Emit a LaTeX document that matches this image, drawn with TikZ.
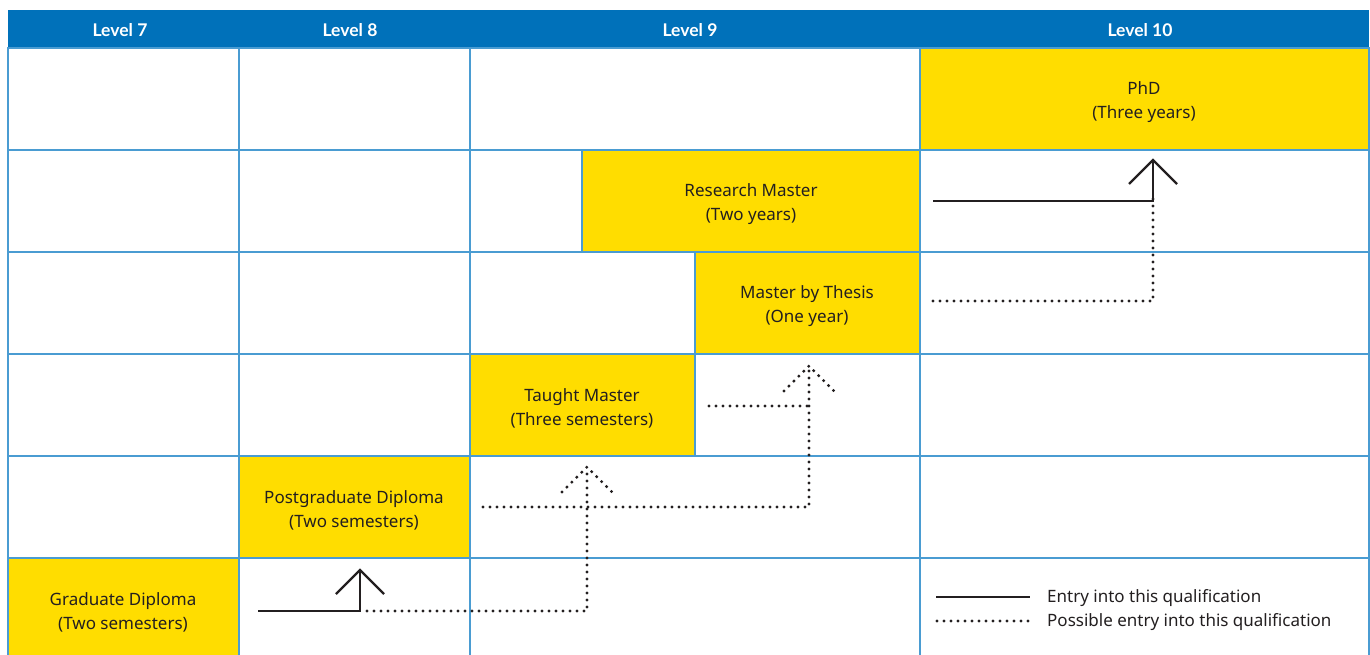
\documentclass[tikz,border=0pt]{standalone}
\usepackage{fontspec}
\setmainfont{Noto Sans}
\newfontfamily\hdrfont{Lato}
\definecolor{hdrblue}{HTML}{0071BA}
\definecolor{gridblue}{HTML}{4A9CD2}
\definecolor{qyellow}{HTML}{FFDD00}
\definecolor{ink}{HTML}{231F20}
\begin{document}
\begin{tikzpicture}[x=1pt,y=-1pt,
  cell/.style={draw=gridblue,line width=1.2pt,inner sep=0pt,outer sep=0pt,anchor=north west},
  qual/.style={cell,fill=qyellow},
  qtext/.style={font=\fontsize{17}{24}\selectfont,text=ink,align=center,inner sep=0pt},
  hdr/.style={font=\hdrfont\bfseries\fontsize{17.5}{18}\selectfont,text=white},
  solidln/.style={draw=ink,line width=2.2pt},
  dotln/.style={draw=ink,line width=3.4pt,line cap=round,dash pattern=on 0pt off 7pt},
  legtext/.style={font=\fontsize{17}{18}\selectfont,text=ink,anchor=west,inner sep=0pt}]
\useasboundingbox (0,0) rectangle (1370,654);
\fill[white] (0,0) rectangle (1370,654);
% header
\fill[hdrblue] (8,9.5) rectangle (1369,48);
\node[hdr] (h7) at (120,30) {Level 7};
\node[hdr] (h8) at (350,30) {Level 8};
\node[hdr] (h9) at (690,30) {Level 9};
\node[hdr] (h10) at (1140,30) {Level 10};
% row 1
\node[cell,minimum width=231,minimum height=102] (r1a) at (8,48) {};
\node[cell,minimum width=231,minimum height=102] (r1b) at (239,48) {};
\node[cell,minimum width=450,minimum height=102] (r1c) at (470,48) {};
\node[qual,minimum width=449,minimum height=102] (phd) at (920,48) {};
% row 2
\node[cell,minimum width=231,minimum height=102] (r2a) at (8,150) {};
\node[cell,minimum width=231,minimum height=102] (r2b) at (239,150) {};
\node[cell,minimum width=112,minimum height=102] (r2c) at (470,150) {};
\node[qual,minimum width=338,minimum height=102] (rm) at (582,150) {};
\node[cell,minimum width=449,minimum height=102] (r2e) at (920,150) {};
% row 3
\node[cell,minimum width=231,minimum height=102] (r3a) at (8,252) {};
\node[cell,minimum width=231,minimum height=102] (r3b) at (239,252) {};
\node[cell,minimum width=225,minimum height=102] (r3c) at (470,252) {};
\node[qual,minimum width=225,minimum height=102] (mbt) at (695,252) {};
\node[cell,minimum width=449,minimum height=102] (r3e) at (920,252) {};
% row 4
\node[cell,minimum width=231,minimum height=102] (r4a) at (8,354) {};
\node[cell,minimum width=231,minimum height=102] (r4b) at (239,354) {};
\node[qual,minimum width=225,minimum height=102] (tm) at (470,354) {};
\node[cell,minimum width=225,minimum height=102] (r4d) at (695,354) {};
\node[cell,minimum width=449,minimum height=102] (r4e) at (920,354) {};
% row 5
\node[cell,minimum width=231,minimum height=102] (r5a) at (8,456) {};
\node[qual,minimum width=231,minimum height=102] (pd) at (239,456) {};
\node[cell,minimum width=450,minimum height=102] (r5c) at (470,456) {};
\node[cell,minimum width=449,minimum height=102] (r5d) at (920,456) {};
% row 6
\node[qual,minimum width=231,minimum height=102] (gd) at (8,558) {};
\node[cell,minimum width=231,minimum height=102] (r6b) at (239,558) {};
\node[cell,minimum width=450,minimum height=102] (r6c) at (470,558) {};
\node[cell,minimum width=449,minimum height=102] (leg) at (920,558) {};
% qualification texts
\node[qtext] (phdT) at (1144,102) {PhD\\(Three years)};
\node[qtext] (rmT) at (751,204) {Research Master\\(Two years)};
\node[qtext] (mbtT) at (807,306) {Master by Thesis\\(One year)};
\node[qtext] (tmT) at (582,408) {Taught Master\\(Three semesters)};
\node[qtext] (pdT) at (354,510) {Postgraduate Diploma\\(Two semesters)};
\node[qtext] (gdT) at (123,612) {Graduate Diploma\\(Two semesters)};
% connector points
\coordinate (gdS) at (258,611);
\coordinate (gdC) at (360,611);
\coordinate (pdTip) at (360,570);
\coordinate (tmC) at (587,611);
\coordinate (tmTip) at (587,467);
\coordinate (pdS) at (483,507);
\coordinate (mbtC) at (809,507);
\coordinate (mbtTip) at (809,366);
\coordinate (tmS) at (709,406);
\coordinate (mbtJ) at (809,406);
\coordinate (rmS) at (933,201);
\coordinate (phdC) at (1153,201);
\coordinate (phdTip) at (1153,160);
\coordinate (mbtS) at (933,301);
\coordinate (mbtE) at (1153,301);
% solid: Graduate Diploma -> Postgraduate Diploma
\draw[solidln] (gdS) -- (gdC) -- (pdTip);
\draw[solidln] (pdTip) ++(-24,24) -- (pdTip) -- ++(24,24);
% dotted: Graduate Diploma -> Taught Master
\draw[dotln] (gdC) ++(7,0) -- (tmC) -- (tmTip);
\draw[dotln] (tmTip) ++(-25,25) -- (tmTip) -- ++(25,25);
% dotted: Postgraduate Diploma -> Master by Thesis
\draw[dotln] (pdS) -- (mbtC) -- (mbtTip);
\draw[dotln] (mbtTip) ++(-25,25) -- (mbtTip) -- ++(25,25);
% dotted: Taught Master -> Master by Thesis
\draw[dotln] (tmS) -- (mbtJ);
% solid: Research Master -> PhD
\draw[solidln] (rmS) -- (phdC) -- (phdTip);
\draw[solidln] (phdTip) ++(-24,24) -- (phdTip) -- ++(24,24);
% dotted: Master by Thesis -> PhD
\draw[dotln] (mbtS) -- (mbtE) -- ([yshift=7]phdC);
% legend
\coordinate (l1a) at (936,597);
\coordinate (l1b) at (1030,597);
\coordinate (l2a) at (937,621);
\coordinate (l2b) at (1031,621);
\draw[solidln] (l1a) -- (l1b);
\draw[dotln] (l2a) -- (l2b);
\node[legtext] (lt1) at (1047,598) {Entry into this qualification};
\node[legtext] (lt2) at (1047,622) {Possible entry into this qualification};
\end{tikzpicture}
\end{document}
